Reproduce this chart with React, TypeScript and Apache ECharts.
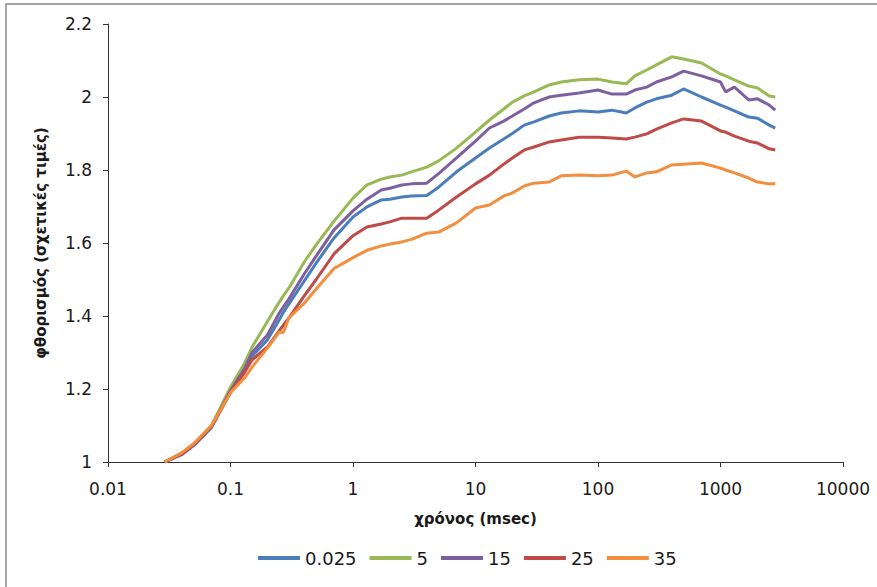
import React, { useEffect, useRef } from "react";
import * as echarts from "echarts";

const times = [0.029, 0.04, 0.05, 0.07, 0.1, 0.13, 0.15, 0.2, 0.25, 0.27, 0.3, 0.4, 0.5, 0.7, 1, 1.3, 1.7, 2, 2.5, 3, 4, 5, 7, 10, 13, 17, 20, 25, 30, 40, 50, 70, 100, 130, 170, 200, 250, 300, 400, 500, 700, 1000, 1100, 1300, 1700, 2000, 2500, 2800];

const seriesNames = ["0.025", "5", "15", "25", "35"];

const s0025 = [1.0, 1.02, 1.045, 1.095, 1.19, 1.25, 1.29, 1.334, 1.39, 1.41, 1.433, 1.496, 1.545, 1.614, 1.671, 1.699, 1.718, 1.72, 1.726, 1.729, 1.73, 1.753, 1.795, 1.833, 1.86, 1.885, 1.9, 1.923, 1.932, 1.948, 1.956, 1.962, 1.959, 1.964, 1.956, 1.97, 1.986, 1.995, 2.005, 2.022, 2.0, 1.978, 1.972, 1.962, 1.945, 1.942, 1.923, 1.915];
const s5 = [1.0, 1.025, 1.05, 1.1, 1.205, 1.27, 1.315, 1.385, 1.438, 1.455, 1.477, 1.548, 1.595, 1.66, 1.723, 1.759, 1.775, 1.781, 1.786, 1.795, 1.808, 1.825, 1.86, 1.904, 1.937, 1.967, 1.986, 2.003, 2.014, 2.033, 2.041, 2.047, 2.049, 2.041, 2.036, 2.058, 2.074, 2.088, 2.11, 2.104, 2.093, 2.063, 2.058, 2.047, 2.03, 2.025, 2.003, 2.0];
const s15 = [1.0, 1.022, 1.047, 1.097, 1.195, 1.255, 1.3, 1.348, 1.408, 1.425, 1.447, 1.515, 1.564, 1.636, 1.688, 1.72, 1.745, 1.75, 1.759, 1.762, 1.764, 1.79, 1.833, 1.879, 1.915, 1.934, 1.948, 1.967, 1.984, 2.0, 2.005, 2.011, 2.019, 2.008, 2.008, 2.019, 2.027, 2.041, 2.055, 2.071, 2.058, 2.041, 2.014, 2.027, 1.992, 1.995, 1.978, 1.964];
const s25 = [1.0, 1.022, 1.047, 1.097, 1.192, 1.245, 1.28, 1.315, 1.36, 1.375, 1.395, 1.455, 1.5, 1.57, 1.62, 1.644, 1.652, 1.658, 1.668, 1.668, 1.668, 1.69, 1.726, 1.762, 1.786, 1.816, 1.833, 1.855, 1.863, 1.877, 1.882, 1.89, 1.89, 1.888, 1.885, 1.89, 1.899, 1.912, 1.929, 1.94, 1.934, 1.907, 1.904, 1.893, 1.879, 1.874, 1.858, 1.855];
const s35 = [1.0, 1.025, 1.05, 1.1, 1.19, 1.23, 1.26, 1.312, 1.356, 1.355, 1.395, 1.435, 1.474, 1.53, 1.56, 1.58, 1.592, 1.597, 1.603, 1.61, 1.627, 1.63, 1.655, 1.696, 1.704, 1.729, 1.737, 1.756, 1.764, 1.767, 1.784, 1.786, 1.784, 1.786, 1.797, 1.781, 1.792, 1.795, 1.814, 1.816, 1.819, 1.805, 1.8, 1.792, 1.778, 1.767, 1.762, 1.762];

const seriesValues = [s0025, s5, s15, s25, s35];
const colors = ["#4A7EBB", "#98B954", "#7D60A0", "#BE4B48", "#F38E3E"];

const FONT = "DejaVu Sans";

export default function App() {
  const ref = useRef<HTMLDivElement>(null);
  useEffect(() => {
    if (!ref.current) return;
    const chart = echarts.init(ref.current, undefined, { renderer: "svg" });
    const fmtLog = (v: number) => {
      const e = Math.round(Math.log10(v));
      return e < 0 ? Math.pow(10, e).toFixed(-e) : String(Math.round(Math.pow(10, e)));
    };
    chart.setOption({
      animation: false,
      backgroundColor: "#ffffff",
      graphic: [
        {
          type: "rect",
          shape: { x: 6, y: 4, width: 900, height: 700 },
          style: { fill: "none", stroke: "#868686", lineWidth: 1.5 },
          silent: true,
        },
      ],
      grid: { left: 108, right: 34, top: 24, bottom: 125, containLabel: false },
      legend: {
        bottom: 15,
        left: 253,
        icon: "rect",
        itemWidth: 42,
        itemHeight: 4,
        itemGap: 13,
        textStyle: { fontFamily: FONT, fontSize: 18, color: "#1a1a1a" },
        data: seriesNames,
      },
      xAxis: {
        type: "log",
        logBase: 10,
        min: 0.01,
        max: 10000,
        name: "χρόνος (msec)",
        nameLocation: "middle",
        nameGap: 49,
        nameTextStyle: { fontFamily: FONT, fontSize: 15, fontWeight: "bold", color: "#1a1a1a" },
        axisLine: { lineStyle: { color: "#333", width: 1 } },
        axisTick: { show: true, inside: false, length: 5, lineStyle: { color: "#333" } },
        minorTick: { show: false },
        splitLine: { show: false },
        axisLabel: { fontFamily: FONT, fontSize: 17, color: "#1a1a1a", margin: 18, formatter: fmtLog },
      },
      yAxis: {
        type: "value",
        min: 1,
        max: 2.2,
        interval: 0.2,
        name: "φθορισμός (σχετικές τιμές)",
        nameLocation: "middle",
        nameGap: 60,
        nameRotate: 90,
        nameTextStyle: { fontFamily: FONT, fontSize: 15, fontWeight: "bold", color: "#1a1a1a" },
        axisLine: { show: true, lineStyle: { color: "#333", width: 1 } },
        axisTick: { show: true, inside: false, length: 5, lineStyle: { color: "#333" } },
        splitLine: { show: false },
        axisLabel: { fontFamily: FONT, fontSize: 17, color: "#1a1a1a", margin: 16 },
      },
      series: seriesNames.map((name, i) => ({
        name,
        type: "line",
        data: times.map((t, j) => [t, seriesValues[i][j]]),
        showSymbol: false,
        symbol: "none",
        lineStyle: { width: 3, color: colors[i] },
        itemStyle: { color: colors[i] },
        z: 2 + i,
      })),
    });
    return () => chart.dispose();
  }, []);
  return (
    <div
      ref={ref}
      style={{ position: "fixed", left: 0, top: 0, width: 877, height: 587, background: "#fff" }}
    />
  );
}
